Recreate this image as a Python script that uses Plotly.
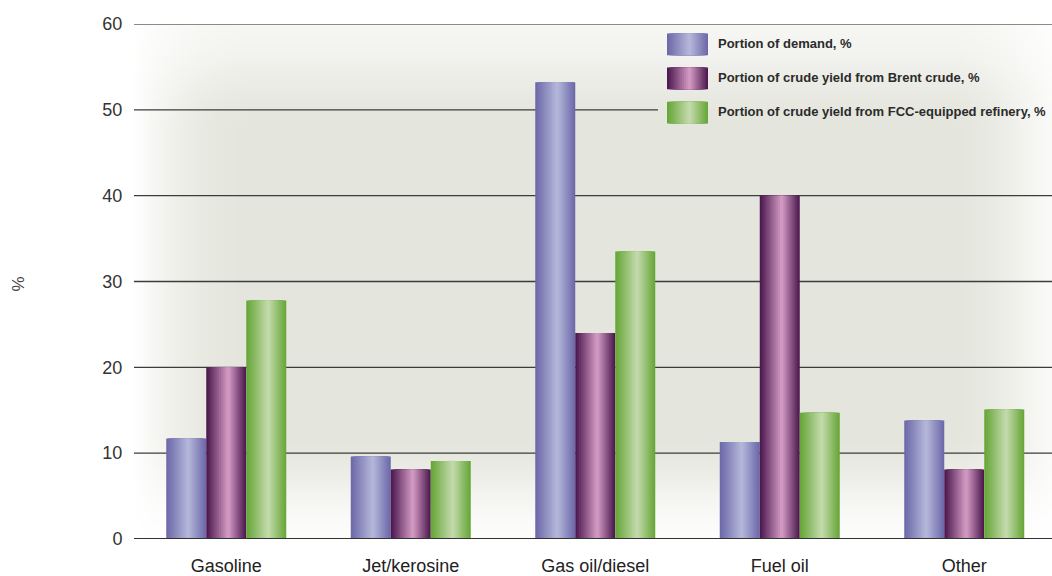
import base64
import struct
import zlib

import numpy as np
import plotly.graph_objects as go

# ---- data -------------------------------------------------------------
categories = ["Gasoline", "Jet/kerosine", "Gas oil/diesel", "Fuel oil", "Other"]
demand = [11.7, 9.6, 53.2, 11.3, 13.8]
brent_yield = [20.0, 8.1, 24.0, 40.0, 8.1]
fcc_yield = [27.8, 9.1, 33.5, 14.7, 15.1]
series_names = [
    "Portion of demand, %",
    "Portion of crude yield from Brent crude, %",
    "Portion of crude yield from FCC-equipped refinery, %",
]
y_ticks = [0, 10, 20, 30, 40, 50, 60]

# ---- geometry / style ---------------------------------------------------
W, H = 1052, 576
M_L, M_R, M_T, M_B = 134, 0, 24, 32
PLOT_W = W - M_L - M_R
PLOT_H = H - M_T - M_B
CAT_PX = 184.5                      # pixel width of one category slot
X_RANGE = [-0.5, -0.5 + PLOT_W / CAT_PX]
BAR_W = 40 / CAT_PX                 # width of a single bar in category units

# (edge colour, highlight colour) for the cylinder-style shading
shades = [
    ((110, 106, 170), (184, 188, 220)),
    ((78, 26, 80), (219, 163, 203)),
    ((104, 167, 58), (201, 221, 179)),
]
LEVELS = 12
PEAK = 0.55                         # highlight position across the bar


def px_x(px):
    return (px - M_L) / PLOT_W


def px_y(py):
    return (H - M_B - py) / PLOT_H


def mix(c0, c1, t):
    return "rgb({},{},{})".format(*[round(a + (b - a) * t) for a, b in zip(c0, c1)])


def png_data_uri(rgb):
    h, w, _ = rgb.shape
    raw = b"".join(b"\x00" + rgb[r].tobytes() for r in range(h))

    def chunk(tag, data):
        body = tag + data
        return struct.pack(">I", len(data)) + body + struct.pack(">I", zlib.crc32(body) & 0xFFFFFFFF)

    png = (b"\x89PNG\r\n\x1a\n"
           + chunk(b"IHDR", struct.pack(">IIBBBBB", w, h, 8, 2, 0, 0, 0))
           + chunk(b"IDAT", zlib.compress(raw, 9))
           + chunk(b"IEND", b""))
    return "data:image/png;base64," + base64.b64encode(png).decode()


def smooth(t):
    t = np.clip(t, 0, 1)
    return t * t * (3 - 2 * t)


# soft grey panel that fades to white towards its edges
gw, gh = 240, 136
gx = M_L + (np.arange(gw) + 0.5) * PLOT_W / gw
gy = M_T + (np.arange(gh) + 0.5) * PLOT_H / gh
X, Y = np.meshgrid(gx, gy)
t_left = np.clip((X - M_L) / 120, 0, 1)
s_left = 1 - (1 - t_left) ** 2
s_right = smooth((1090 - X) / 140)
s_top = 0.35 + 0.65 * smooth((Y - M_T) / 110)
s_bot = 0.1 + 0.9 * smooth((H - M_B - Y) / 110)
m = s_left * s_right * s_top * s_bot
grey = np.array([228, 229, 220], dtype=float)
img = 255 - (255 - grey)[None, None, :] * m[..., None]
bg_uri = png_data_uri(np.round(img).astype(np.uint8))

fig = go.Figure()

# bars: nested strips of decreasing width give each bar its shading
series_values = [demand, brent_yield, fcc_yield]
for s, (vals, name, (edge, peak)) in enumerate(zip(series_values, series_names, shades)):
    centre = (s - 1) * BAR_W
    left = centre - BAR_W / 2
    for k in range(LEVELS):
        a = k / LEVELS
        x0 = left + BAR_W * PEAK * a
        x1 = left + BAR_W * (PEAK + (1 - PEAK) * (1 - a))
        fig.add_trace(go.Bar(
            x=categories,
            y=vals,
            name=name,
            width=x1 - x0,
            offset=x0,
            marker=dict(color=mix(edge, peak, a), line=dict(width=0)),
            showlegend=False,
            hoverinfo="x+y+name" if k == 0 else "skip",
        ))

shapes = []
legend_left = 658
for v in y_ticks:
    if v == 0:
        continue
    x_end = px_x(legend_left) if v == 50 else 1
    shapes.append(dict(
        type="line", xref="paper", yref="y", x0=0, x1=x_end, y0=v, y1=v,
        line=dict(color="#8a8a8a" if v == 60 else "#3c3c3c", width=2 if v == 60 else 1.4),
        layer="between",
    ))
# baseline sits over the bar feet
shapes.append(dict(
    type="line", xref="paper", yref="y", x0=0, x1=1, y0=0, y1=0,
    line=dict(color="#333333", width=2), layer="above",
))

# legend swatches and labels
annotations = []
row_centres = [44.5, 79, 113.5]
sw_x0, sw_x1, sw_h = 667, 708, 22
for (edge, peak), name, cy in zip(shades, series_names, row_centres):
    for k in range(LEVELS):
        a = k / LEVELS
        x0 = sw_x0 + (sw_x1 - sw_x0) * PEAK * a
        x1 = sw_x0 + (sw_x1 - sw_x0) * (PEAK + (1 - PEAK) * (1 - a))
        shapes.append(dict(
            type="rect", xref="paper", yref="paper",
            x0=px_x(x0), x1=px_x(x1), y0=px_y(cy + sw_h / 2), y1=px_y(cy - sw_h / 2),
            fillcolor=mix(edge, peak, a), line=dict(width=0), layer="above",
        ))
    annotations.append(dict(
        text=f"<b>{name}</b>", xref="paper", yref="paper",
        x=px_x(716), y=px_y(cy - 1), xanchor="left", yanchor="middle",
        showarrow=False,
        font=dict(family="Liberation Sans, Arial, sans-serif", size=13, color="#2b2b2b"),
    ))

annotations.append(dict(
    text="%", xref="paper", yref="paper", x=px_x(18), y=px_y(287),
    xanchor="center", yanchor="middle", textangle=-90, showarrow=False,
    font=dict(family="Liberation Sans, Arial, sans-serif", size=17, color="#444444"),
))

fig.update_layout(
    width=W, height=H,
    margin=dict(l=M_L, r=M_R, t=M_T, b=M_B, pad=0),
    paper_bgcolor="white",
    plot_bgcolor="rgba(0,0,0,0)",
    barmode="overlay",
    showlegend=False,
    shapes=shapes,
    annotations=annotations,
    images=[dict(
        source=bg_uri, xref="paper", yref="paper", x=0, y=1, sizex=1, sizey=1,
        xanchor="left", yanchor="top", sizing="stretch", layer="below",
    )],
    xaxis=dict(
        type="category", range=X_RANGE, showgrid=False, zeroline=False,
        showline=False, ticks="outside", ticklen=10, tickcolor="rgba(0,0,0,0)",
        tickfont=dict(family="Liberation Sans, Arial, sans-serif", size=18, color="#222222"),
        fixedrange=True,
    ),
    yaxis=dict(
        range=[0, 60], tickvals=y_ticks, showgrid=False, zeroline=False,
        showline=False, ticks="outside", ticklen=7, tickcolor="rgba(0,0,0,0)",
        tickfont=dict(family="Liberation Sans, Arial, sans-serif", size=18, color="#333333"),
        fixedrange=True,
    ),
    font=dict(family="Liberation Sans, Arial, sans-serif"),
)

fig.write_html("out.html")
